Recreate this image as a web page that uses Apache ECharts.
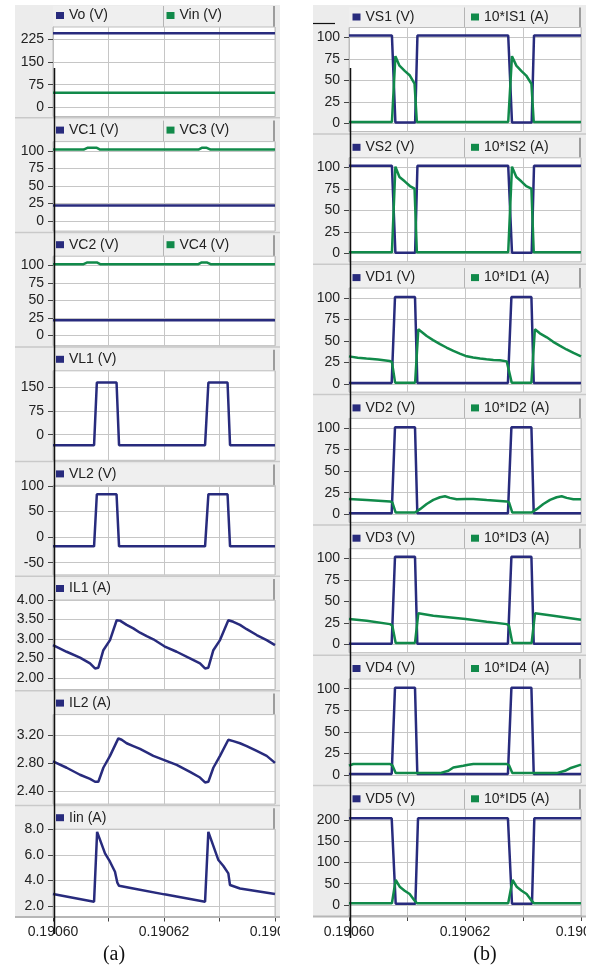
<!DOCTYPE html>
<html>
<head>
<meta charset="utf-8">
<script src="https://cdn.jsdelivr.net/npm/echarts@6/dist/echarts.min.js"></script>
<style>
html,body{margin:0;padding:0;background:#fff;}
#chart{width:598px;height:967px;}
</style>
</head>
<body>
<div id="chart"></div>
<script>
// Time axis: microseconds after T0 (seconds)
const T0 = 0.19060;
const timeTicks = [0, 10, 20, 30, 40];
const timeLabelTicks = [0, 20, 40];

// ---- column (a) ----
const vo  = [[0,245],[40,245]];
const vin = [[0,48],[40,48]];
const ticksVo = [0,75,150,225];

const vc1 = [[0,22],[40,22]];
const vc3 = [[0,102],[5.5,102],[6.2,104.5],[7.9,104.5],[8.5,102],[26.2,102],[26.8,104.5],[27.7,104.5],[28.4,102],[40,102]];
const ticksVc13 = [0,25,50,75,100];

const vc2 = [[0,22],[40,22]];
const vc4 = [[0,102],[5.5,102],[6.2,104.5],[7.9,104.5],[8.5,102],[26.2,102],[26.8,104.5],[27.7,104.5],[28.4,102],[40,102]];
const ticksVc24 = [0,25,50,75,100];

const vl1 = [[0,-33],[7.4,-33],[7.9,165],[11.45,165],[11.9,-33],[27.4,-33],[28.0,165],[31.45,165],[31.9,-33],[40,-33]];
const ticksVl1 = [0,75,150];

const vl2 = [[0,-18],[7.4,-18],[7.9,84],[11.45,84],[11.9,-18],[27.4,-18],[28.0,84],[31.45,84],[31.9,-18],[40,-18]];
const ticksVl2 = [-50,0,50,100];

const il1 = [[0,2.84],[2.46,2.67],[4.86,2.52],[6.67,2.37],[7.57,2.24],[8.17,2.26],[9.07,2.71],[10.27,2.97],[11.47,3.48],[12.07,3.47],[13.27,3.36],[14.47,3.27],[15.68,3.16],[16.88,3.07],[18.08,2.99],[20.06,2.81],[22.28,2.67],[24.68,2.5],[26.49,2.37],[27.39,2.24],[27.99,2.26],[28.89,2.71],[30.09,2.97],[31.59,3.48],[32.49,3.44],[33.69,3.36],[34.9,3.25],[36.7,3.1],[38.5,2.97],[40,2.84]];
const ticksIl1 = [2.0,2.5,3.0,3.5,4.0];

const il2 = [[0,2.83],[2.46,2.74],[4.86,2.64],[6.67,2.58],[7.57,2.54],[8.17,2.54],[9.07,2.74],[10.27,2.91],[11.77,3.16],[12.37,3.14],[13.27,3.09],[14.47,3.05],[15.68,3.01],[16.88,2.96],[18.08,2.91],[20.06,2.85],[22.28,2.78],[24.68,2.68],[26.49,2.6],[27.39,2.53],[27.99,2.54],[28.89,2.74],[30.09,2.91],[31.59,3.14],[32.49,3.12],[33.69,3.09],[34.9,3.05],[36.7,2.98],[38.5,2.91],[40,2.81]];
const ticksIl2 = [2.4,2.8,3.2];

const iin = [[0,2.94],[7.4,2.34],[7.95,7.79],[9.37,6.11],[10.27,5.46],[11.17,4.68],[11.59,3.82],[11.9,3.58],[14.47,3.37],[20.06,2.91],[27.4,2.34],[27.99,7.79],[29.8,5.59],[30.7,5.12],[31.59,4.55],[31.89,3.64],[33.69,3.37],[40,2.94]];
const ticksIin = [2,4,6,8];

// ---- column (b) ----
const vs1 = [[0,102],[7.4,102],[8.0,1],[11.4,1],[11.8,102],[27.45,102],[28.1,1],[31.5,1],[31.9,102],[40,102]];
const is1x10 = [[0,1.5],[7.4,1.5],[8.0,78],[8.7,67],[9.6,61],[10.5,55.5],[11.3,46],[11.7,1.5],[27.45,1.5],[28.1,78],[28.85,67],[29.7,61],[30.55,55.5],[31.45,46],[31.85,1.5],[40,1.5]];

const vs2 = [[0,102],[7.4,102],[8.0,1],[11.4,1],[11.8,102],[27.45,102],[28.1,1],[31.5,1],[31.9,102],[40,102]];
const is2x10 = [[0,1.5],[7.4,1.5],[8.0,101],[8.7,89],[9.6,84],[10.5,78.5],[11.3,75.5],[11.7,1.5],[27.45,1.5],[28.1,101],[28.85,89],[29.7,84],[30.55,78.5],[31.45,75.5],[31.85,1.5],[40,1.5]];

const vd1 = [[0,1],[7.36,1],[7.93,101],[11.38,101],[11.78,1],[27.4,1],[28.0,101],[31.45,101],[31.85,1],[40,1]];
const id1x10 = [[0,32],[1.5,30.5],[3,29.4],[5,28.3],[7.0,26.6],[7.4,25.5],[7.95,1.5],[11.4,1.5],[11.95,63.5],[13.4,55.6],[14.5,50.9],[15.7,46.2],[16.8,42.3],[18.0,38.4],[19.1,35.3],[20.1,32.5],[21.4,30.6],[22.6,29.4],[23.7,28.6],[24.9,27.8],[26.0,27.4],[27.2,26.2],[27.45,25.5],[28.05,1.5],[31.45,1.5],[32.05,63.5],[32.9,58.8],[34.1,54.1],[35.2,48.9],[36.4,44.2],[37.5,40],[38.7,36],[40,32.1]];

const vd2 = [[0,1],[7.36,1],[7.93,101],[11.38,101],[11.78,1],[27.4,1],[28.0,101],[31.45,101],[31.85,1],[40,1]];
const id2x10 = [[0,17.8],[3.05,16.6],[7.07,14.9],[7.47,13.7],[8.05,1.9],[11.38,1.9],[12.24,5.9],[13.39,11.8],[14.54,16.6],[15.69,19.7],[16.55,20.9],[17.41,19],[18.56,17.3],[20.11,17.8],[21.44,17.8],[23.74,16.6],[27.19,14.9],[27.59,13.7],[28.16,1.9],[31.49,1.9],[32.36,5.9],[33.51,11.8],[34.66,16.6],[35.8,19.7],[36.67,20.9],[37.53,19],[38.68,17.3],[40,17.3]];

const vd3 = [[0,1],[7.36,1],[7.93,102],[11.38,102],[11.78,1],[27.4,1],[28.0,102],[31.45,102],[31.85,1],[40,1]];
const id3x10 = [[0,29.6],[3.05,27.6],[7.07,23.7],[7.47,21.7],[8.05,1.9],[11.38,1.9],[11.95,36.3],[14.54,33.5],[20.11,29.6],[23.74,26.4],[27.19,23.7],[27.59,21.7],[28.16,1.9],[31.49,1.9],[32.07,36.3],[35.23,33.5],[40,28.8]];

const vd4 = [[0,1],[7.36,1],[7.93,101],[11.38,101],[11.78,1],[27.4,1],[28.0,101],[31.45,101],[31.85,1],[40,1]];
const id4x10 = [[0,10.6],[0.75,12.6],[7.07,12.6],[7.47,11],[8.05,2],[15.69,2],[17.13,4.7],[17.99,8.6],[19.71,10.6],[20.57,11.8],[21.44,12.6],[27.19,12.6],[27.59,11],[28.16,2],[35.8,2],[37.24,4.7],[38.1,7.6],[40,11.8]];

const vd5 = [[0,204],[7.36,204],[8.05,3],[11.44,3],[11.9,204],[27.4,204],[28.1,3],[31.55,3],[31.95,204],[40,204]];
const id5x10 = [[0,4],[7.4,4],[8.05,58.8],[8.74,43],[9.6,33.7],[10.46,25.9],[11.32,10.2],[11.72,4],[27.45,4],[28.2,58.8],[28.9,43],[29.77,33.7],[30.63,25.9],[31.49,10.2],[31.9,4],[40,4]];

const ticksB = [0,25,50,75,100];
const ticksVd5 = [0,50,100,150,200];

// ---- styling ----
const NAVY = '#282b7d';
const GREEN = '#118a4a';
const FONT = "'Liberation Sans', Arial, Helvetica, sans-serif";
const TEXT = '#222';
const GRIDLINE = '#c6c6c6';

const panelsA = [
  {series:[['Vo (V)',vo,NAVY],['Vin (V)',vin,GREEN]], ticks:ticksVo, range:[-30.4,265.7], dec:0},
  {series:[['VC1 (V)',vc1,NAVY],['VC3 (V)',vc3,GREEN]], ticks:ticksVc13, range:[-14.4,113.4], dec:0},
  {series:[['VC2 (V)',vc2,NAVY],['VC4 (V)',vc4,GREEN]], ticks:ticksVc24, range:[-14.4,113.4], dec:0},
  {series:[['VL1 (V)',vl1,NAVY]], ticks:ticksVl1, range:[-81,202.2], dec:0},
  {series:[['VL2 (V)',vl2,NAVY]], ticks:ticksVl2, range:[-73.9,101.2], dec:0},
  {series:[['IL1 (A)',il1,NAVY]], ticks:ticksIl1, range:[1.70,4.0], dec:2},
  {series:[['IL2 (A)',il2,NAVY]], ticks:ticksIl2, range:[2.22,3.50], dec:2},
  {series:[['Iin (A)',iin,NAVY]], ticks:ticksIin, range:[1.18,8.0], dec:1}
];
const panelsB = [
  {series:[['VS1 (V)',vs1,NAVY],['10*IS1 (A)',is1x10,GREEN]], ticks:ticksB, range:[-9.5,111.3], dec:0},
  {series:[['VS2 (V)',vs2,NAVY],['10*IS2 (A)',is2x10,GREEN]], ticks:ticksB, range:[-9.5,111.3], dec:0},
  {series:[['VD1 (V)',vd1,NAVY],['10*ID1 (A)',id1x10,GREEN]], ticks:ticksB, range:[-9.5,111.3], dec:0},
  {series:[['VD2 (V)',vd2,NAVY],['10*ID2 (A)',id2x10,GREEN]], ticks:ticksB, range:[-9.5,111.3], dec:0},
  {series:[['VD3 (V)',vd3,NAVY],['10*ID3 (A)',id3x10,GREEN]], ticks:ticksB, range:[-9.5,111.3], dec:0},
  {series:[['VD4 (V)',vd4,NAVY],['10*ID4 (A)',id4x10,GREEN]], ticks:ticksB, range:[-9.5,111.3], dec:0},
  {series:[['VD5 (V)',vd5,NAVY],['10*ID5 (A)',id5x10,GREEN]], ticks:ticksVd5, range:[-25.9,225.2], dec:0}
];

const grids = [], xAxes = [], yAxes = [], series = [], legends = [], graphics = [];

function addPanel(panel, g, isBottom) {
  const k = grids.length;
  grids.push({
    left: g.left, top: g.top, width: g.width, height: g.bottom - g.top,
    show: true, backgroundColor: '#fff', borderColor: '#bdbdbd', borderWidth: 1,
    containLabel: false, outerBoundsMode: 'none'
  });
  xAxes.push({
    gridIndex: k, type: 'value', min: 0, max: 40, interval: 10,
    axisLine: {show: isBottom, onZero: false, lineStyle: {color: '#b4b4b4', width: 2}},
    axisTick: {show: isBottom, length: 5, lineStyle: {color: '#444'}},
    axisLabel: {
      show: isBottom, customValues: timeLabelTicks,
      formatter: v => (T0 + v * 1e-6).toFixed(5),
      fontSize: 14, color: TEXT, margin: 9, fontFamily: FONT
    },
    splitLine: {show: true, lineStyle: {color: GRIDLINE, width: 1}}
  });
  yAxes.push({
    gridIndex: k, type: 'value', min: panel.range[0], max: panel.range[1],
    axisLine: {show: true, onZero: false, lineStyle: {color: '#bdbdbd'}},
    axisTick: {show: true, customValues: panel.ticks, length: 5, lineStyle: {color: '#444'}},
    axisLabel: {
      customValues: panel.ticks, formatter: v => v.toFixed(panel.dec),
      fontSize: 14, color: TEXT, margin: 9, fontFamily: FONT
    },
    splitLine: {show: true, lineStyle: {color: GRIDLINE, width: 1}}
  });

  // legend strip above the plot
  graphics.push({type: 'rect', shape: {x: g.left, y: g.legendTop, width: g.width, height: g.top - g.legendTop},
    style: {fill: '#efefef'}, z: -5});
  graphics.push({type: 'line', shape: {x1: g.left + g.width - 1, y1: g.legendTop, x2: g.left + g.width - 1, y2: g.top},
    style: {stroke: '#9d9d9d', lineWidth: 2}, z: -4});
  if (panel.series.length > 1) {
    graphics.push({type: 'line', shape: {x1: g.divider, y1: g.legendTop, x2: g.divider, y2: g.top},
      style: {stroke: '#b4b4b4', lineWidth: 1}, z: -4});
  }

  panel.series.forEach(([name, data, color], n) => {
    series.push({
      type: 'line', name, data, xAxisIndex: k, yAxisIndex: k,
      showSymbol: false, symbol: 'none', animation: false,
      lineStyle: {color, width: 2.5}, itemStyle: {color}, z: 3
    });
    legends.push({
      data: [name], left: g.legendLeft[n], top: g.legendTop + 2.5, padding: 0,
      icon: 'rect', itemWidth: 8, itemHeight: 7, selectedMode: false,
      textStyle: {fontSize: 14, color: TEXT, fontFamily: FONT}
    });
  });
}

// column backgrounds
graphics.push({type: 'rect', shape: {x: 15, y: 5, width: 265, height: 912}, style: {fill: '#ececec'}, z: -10});
graphics.push({type: 'rect', shape: {x: 313, y: 5, width: 273, height: 911}, style: {fill: '#ececec'}, z: -10});

// column (a): 8 stacked panels
const stepA = 114.6;
panelsA.forEach((p, i) => {
  const o = stepA * i;
  const last = i === panelsA.length - 1;
  addPanel(p, {
    left: 53, width: 222, top: 27 + o, bottom: last ? 916.5 : 116.5 + o,
    legendTop: 6 + o, legendLeft: [56, 166.5], divider: 163.5
  }, last);
  if (!last) {
    graphics.push({type: 'line', shape: {x1: 15, y1: 117.8 + o, x2: 280, y2: 117.8 + o},
      style: {stroke: '#c9c9c9', lineWidth: 1.5}, z: -6});
  }
});

// column (b): 7 stacked panels
const stepB = 130.3;
panelsB.forEach((p, j) => {
  const o = stepB * j;
  const last = j === panelsB.length - 1;
  addPanel(p, {
    left: 349, width: 232, top: 27.5 + o, bottom: last ? 916 : 131.5 + o,
    legendTop: 7.5 + o, legendLeft: [352.5, 471], divider: 464.5
  }, last);
  if (!last) {
    graphics.push({type: 'line', shape: {x1: 313, y1: 134 + o, x2: 586, y2: 134 + o},
      style: {stroke: '#c9c9c9', lineWidth: 1.5}, z: -6});
  }
});

// bottom edges of the columns
graphics.push({type: 'line', shape: {x1: 15, y1: 917, x2: 280, y2: 917}, style: {stroke: '#b6b6b6', lineWidth: 2}, z: 5});
graphics.push({type: 'line', shape: {x1: 313, y1: 916.5, x2: 586, y2: 916.5}, style: {stroke: '#b6b6b6', lineWidth: 2}, z: 5});

// cursor marks
graphics.push({type: 'line', shape: {x1: 54.5, y1: 68, x2: 54.5, y2: 934}, style: {stroke: '#111', lineWidth: 1.5}, z: 100});
graphics.push({type: 'line', shape: {x1: 350.5, y1: 68, x2: 350.5, y2: 938}, style: {stroke: '#111', lineWidth: 1.5}, z: 100});
graphics.push({type: 'line', shape: {x1: 313, y1: 23.5, x2: 335, y2: 23.5}, style: {stroke: '#111', lineWidth: 1.2}, z: 100});

// time labels are cut at the column edge
graphics.push({type: 'rect', shape: {x: 280, y: 920, width: 22, height: 26}, style: {fill: '#fff'}, z: 100});
graphics.push({type: 'rect', shape: {x: 586, y: 920, width: 14, height: 26}, style: {fill: '#fff'}, z: 100});

// sub-figure captions
graphics.push({type: 'text', x: 114, y: 955, style: {text: '(a)', font: "20px 'Liberation Serif', 'Times New Roman', serif", fill: '#111', align: 'center', verticalAlign: 'middle'}, z: 100});
graphics.push({type: 'text', x: 485, y: 955, style: {text: '(b)', font: "20px 'Liberation Serif', 'Times New Roman', serif", fill: '#111', align: 'center', verticalAlign: 'middle'}, z: 100});

const chart = echarts.init(document.getElementById('chart'), null, {renderer: 'canvas', width: 598, height: 967});
chart.setOption({
  animation: false,
  backgroundColor: '#fff',
  grid: grids,
  xAxis: xAxes,
  yAxis: yAxes,
  legend: legends,
  series: series,
  graphic: {elements: graphics}
});
</script>
</body>
</html>
